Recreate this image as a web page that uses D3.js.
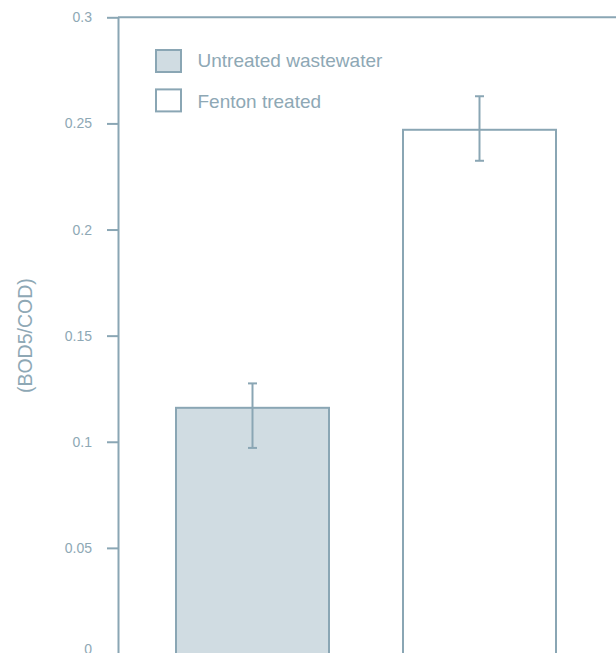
<!DOCTYPE html>
<html>
<head>
<meta charset="utf-8">
<script src="https://cdn.jsdelivr.net/npm/d3@7"></script>
<style>
  html, body { margin: 0; padding: 0; background: #fff; }
  svg { display: block; }
  text { font-family: "Liberation Sans", Arial, sans-serif; fill: #8ea8b5; }
</style>
</head>
<body>
<svg id="chart" width="616" height="653"></svg>
<script>
// BOD5/COD ratio before and after Fenton treatment
const categories = ["Untreated wastewater", "Fenton treated"];
const ratios = [0.116, 0.247];
const errUpper = [0.1275, 0.2628];   // top of each error bar
const errLower = [0.0971, 0.2324];   // bottom of each error bar
const fills = ["#d0dce2", "#ffffff"];
const yTicks = [0, 0.05, 0.1, 0.15, 0.2, 0.25, 0.3];
const yTickLabels = ["0", "0.05", "0.1", "0.15", "0.2", "0.25", "0.3"];
const yTitle = "(BOD5/COD)";

const stroke = "#8aa6b4";
const svg = d3.select("#chart");

const x = d3.scaleBand()
  .domain(categories)
  .range([118, 614])
  .paddingInner(0.326)
  .paddingOuter(0.2555);

const y = d3.scaleLinear().domain([0, 0.3]).range([654, 17.3]);

// bars
svg.append("g").selectAll("rect")
  .data(categories)
  .join("rect")
  .attr("x", d => x(d))
  .attr("y", (d, i) => y(ratios[i]))
  .attr("width", x.bandwidth())
  .attr("height", (d, i) => y(0) - y(ratios[i]))
  .attr("fill", (d, i) => fills[i])
  .attr("stroke", stroke)
  .attr("stroke-width", 2);

// error bars
const eb = svg.append("g").attr("stroke", stroke).attr("stroke-width", 2);
categories.forEach((c, i) => {
  const cx = x(c) + x.bandwidth() / 2;
  const hi = y(errUpper[i]);
  const lo = y(errLower[i]);
  eb.append("line").attr("x1", cx).attr("x2", cx).attr("y1", hi).attr("y2", lo);
  eb.append("line").attr("x1", cx - 4.5).attr("x2", cx + 4.5).attr("y1", hi).attr("y2", hi);
  eb.append("line").attr("x1", cx - 4.5).attr("x2", cx + 4.5).attr("y1", lo).attr("y2", lo);
});

// y axis
const yAxis = d3.axisLeft(y)
  .tickValues(yTicks)
  .tickFormat((d, i) => yTickLabels[i])
  .tickSize(11)
  .tickPadding(15)
  .tickSizeOuter(0);
const ax = svg.append("g").attr("transform", "translate(118,0)").call(yAxis);
ax.select(".domain").attr("stroke", stroke).attr("stroke-width", 2);
ax.selectAll(".tick line").attr("stroke", stroke).attr("stroke-width", 2);
ax.selectAll(".tick text")
  .attr("fill", "#8ea8b5")
  .attr("font-size", 14)
  .attr("font-family", "Liberation Sans, Arial, sans-serif");
// the zero label sits at the lower edge; lift it a little so it stays readable
ax.selectAll(".tick text").filter(d => d === 0).attr("dy", "0.32em").attr("y", -5);

// top frame line and baseline
svg.append("line")
  .attr("x1", 118).attr("x2", 616)
  .attr("y1", y(0.3)).attr("y2", y(0.3))
  .attr("stroke", stroke).attr("stroke-width", 2);
svg.append("line")
  .attr("x1", 118).attr("x2", 616)
  .attr("y1", y(0)).attr("y2", y(0))
  .attr("stroke", stroke).attr("stroke-width", 2);

// y title
svg.append("text")
  .attr("transform", `translate(32,${(y(0.1) + y(0.2)) / 2}) rotate(-90)`)
  .attr("text-anchor", "middle")
  .attr("font-size", 19.5)
  .text(yTitle);

// legend
const lg = svg.append("g");
categories.forEach((c, i) => {
  const ly = 50 + i * 39.4;
  lg.append("rect")
    .attr("x", 156).attr("y", ly)
    .attr("width", 25).attr("height", 22)
    .attr("fill", fills[i])
    .attr("stroke", stroke).attr("stroke-width", 2);
  lg.append("text")
    .attr("x", 197.5).attr("y", 66.7 + i * 41.6)
    .attr("font-size", 19)
    .text(c);
});
</script>
</body>
</html>
